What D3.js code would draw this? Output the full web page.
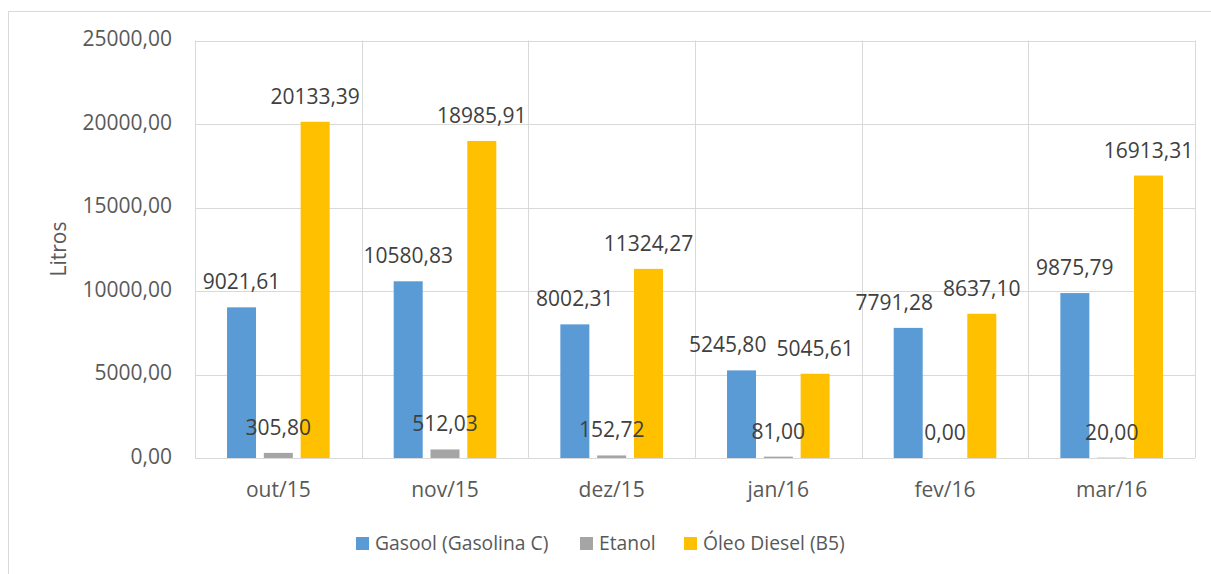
<!DOCTYPE html>
<html>
<head>
<meta charset="utf-8">
<script src="https://cdn.jsdelivr.net/npm/d3@7"></script>
<style>
  html, body { margin: 0; padding: 0; background: #ffffff; }
  svg { display: block; font-family: "Open Sans", sans-serif; }
</style>
</head>
<body>
<svg id="chart" width="1211" height="574"></svg>
<script>
// Monthly fuel volumes (litres)
const months = ["out/15", "nov/15", "dez/15", "jan/16", "fev/16", "mar/16"];
const seriesNames = ["Gasool (Gasolina C)", "Etanol", "Óleo Diesel (B5)"];
const seriesColors = ["#5B9BD5", "#A5A5A5", "#FFC000"];
const gasool = [9021.61, 10580.83, 8002.31, 5245.80, 7791.28, 9875.79];
const etanol = [305.80, 512.03, 152.72, 81.00, 0.00, 20.00];
const diesel = [20133.39, 18985.91, 11324.27, 5045.61, 8637.10, 16913.31];
const yTicks = [0, 5000, 10000, 15000, 20000, 25000];

const seriesValues = [gasool, etanol, diesel];

const locale = d3.formatLocale({ decimal: ",", thousands: "", grouping: [3], currency: ["", ""] });
const fmt = locale.format(".2f");

const svg = d3.select("#chart");

// outer chart frame
svg.append("rect")
  .attr("x", 8.5).attr("y", 11.5)
  .attr("width", 1210).attr("height", 580)
  .attr("fill", "none").attr("stroke", "#D9D9D9").attr("stroke-width", 1);

const plot = { left: 195, right: 1195, top: 40.5, bottom: 458 };

const x = d3.scaleBand().domain(months).range([plot.left, plot.right]).paddingInner(0).paddingOuter(0);
const xs = d3.scaleBand().domain(d3.range(seriesNames.length))
  .range([0, x.bandwidth()]).paddingInner(0.212).paddingOuter(0.87);
const y = d3.scaleLinear().domain([0, 25000]).range([plot.bottom, plot.top]);

// horizontal gridlines
svg.append("g").selectAll("line").data(yTicks).join("line")
  .attr("x1", plot.left).attr("x2", plot.right)
  .attr("y1", d => Math.round(y(d)) + 0.5).attr("y2", d => Math.round(y(d)) + 0.5)
  .attr("stroke", "#D9D9D9").attr("stroke-width", 1);

// vertical category separators
const seps = months.map(m => x(m)).concat([plot.right]);
svg.append("g").selectAll("line").data(seps).join("line")
  .attr("x1", d => Math.round(d) + 0.5).attr("x2", d => Math.round(d) + 0.5)
  .attr("y1", y(25000)).attr("y2", y(0))
  .attr("stroke", "#D9D9D9").attr("stroke-width", 1);

// y tick labels
svg.append("g").selectAll("text").data(yTicks).join("text")
  .attr("x", 172).attr("y", d => y(d) + 5.5)
  .attr("text-anchor", "end")
  .attr("font-size", 21).attr("fill", "#595959")
  .text(d => fmt(d));

// x category labels
svg.append("g").selectAll("text").data(months).join("text")
  .attr("x", d => x(d) + x.bandwidth() / 2).attr("y", 497)
  .attr("text-anchor", "middle")
  .attr("font-size", 21).attr("fill", "#595959")
  .text(d => d);

// y axis title
svg.append("text")
  .attr("transform", "translate(66,249) rotate(-90)")
  .attr("text-anchor", "middle")
  .attr("font-size", 21).attr("fill", "#595959")
  .text("Litros");

// bars
const barData = [];
seriesValues.forEach((vals, s) => {
  vals.forEach((v, i) => barData.push({ s, month: months[i], value: v }));
});

svg.append("g").selectAll("rect").data(barData).join("rect")
  .attr("x", d => x(d.month) + xs(d.s))
  .attr("width", xs.bandwidth())
  .attr("y", d => y(d.value))
  .attr("height", d => y(0) - y(d.value))
  .attr("fill", d => seriesColors[d.s]);

// value labels above bars
const labels = svg.append("g").selectAll("text").data(barData).join("text")
  .attr("x", d => x(d.month) + xs(d.s) + xs.bandwidth() / 2)
  .attr("y", d => y(d.value) - 18)
  .attr("text-anchor", "middle")
  .attr("font-size", 21).attr("fill", "#404040")
  .text(d => fmt(d.value));

// nudge a label left when it would collide with its neighbour in the same month
const nodes = labels.nodes();
const gap = 10;
months.forEach(m => {
  const group = nodes.filter(n => d3.select(n).datum().month === m)
    .sort((a, b) => d3.select(a).datum().s - d3.select(b).datum().s);
  for (let i = group.length - 2; i >= 0; i--) {
    const a = group[i].getBBox();
    for (let j = i + 1; j < group.length; j++) {
      const b = group[j].getBBox();
      const vOverlap = a.y < b.y + b.height && b.y < a.y + a.height;
      const hOverlap = a.x + a.width + gap - b.x;
      if (vOverlap && hOverlap > 0) {
        const cur = +group[i].getAttribute("x");
        group[i].setAttribute("x", cur - hOverlap);
      }
    }
  }
});

// legend
const legendItems = [
  { name: seriesNames[0], color: seriesColors[0], x: 356 },
  { name: seriesNames[1], color: seriesColors[1], x: 580 },
  { name: seriesNames[2], color: seriesColors[2], x: 684 }
];
const lg = svg.append("g").selectAll("g").data(legendItems).join("g")
  .attr("transform", d => `translate(${d.x},537)`);
lg.append("rect").attr("width", 13).attr("height", 13).attr("fill", d => d.color);
lg.append("text").attr("x", 19).attr("y", 13)
  .attr("font-size", 19.3).attr("fill", "#595959")
  .text(d => d.name);
</script>
</body>
</html>
